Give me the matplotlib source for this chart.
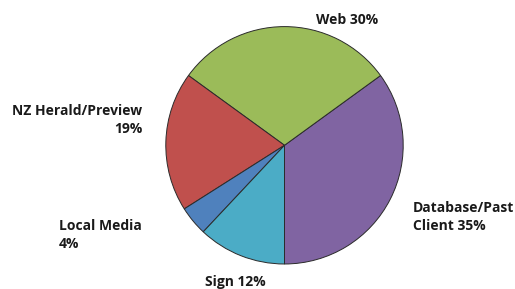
import matplotlib
matplotlib.use("Agg")
import matplotlib.pyplot as plt

categories = ["Database/Past Client", "Web", "NZ Herald/Preview", "Local Media", "Sign"]
values = [35, 30, 19, 4, 12]
colors = ["#8064A2", "#9BBB59", "#C0504D", "#4F81BD", "#4BACC6"]
label_texts = ["Database/Past\nClient 35%", "Web 30%", "NZ Herald/Preview\n19%", "Local Media\n4%", "Sign 12%"]

W, H = 515, 289
fig = plt.figure(figsize=(W / 100, H / 100), dpi=100)
ax = fig.add_axes([0, 0, 1, 1])

cx, cy, r = 284.5, H - 145.3, 118.7
ax.pie(values, colors=colors, startangle=-90, counterclock=True,
       center=(cx, cy), radius=r, frame=True,
       wedgeprops=dict(edgecolor="#2b2b2b", linewidth=0.7))
ax.set_xlim(0, W)
ax.set_ylim(0, H)
ax.set_aspect("equal")
ax.axis("off")

font = dict(family=["Open Sans", "DejaVu Sans"], fontweight="bold", fontsize=10, color="#1a1a1a",
            linespacing=1.45)
pos = [
    (413, H - 217, "left", "center"),
    (347, H - 20, "center", "center"),
    (142, H - 120, "right", "center"),
    (59, H - 235, "left", "center"),
    (235, H - 282, "center", "center"),
]
for (x, y, ha, va), t in zip(pos, label_texts):
    ax.text(x, y, t, ha=ha, va=va, multialignment=ha, **font)

fig.savefig("out.png", dpi=100)
